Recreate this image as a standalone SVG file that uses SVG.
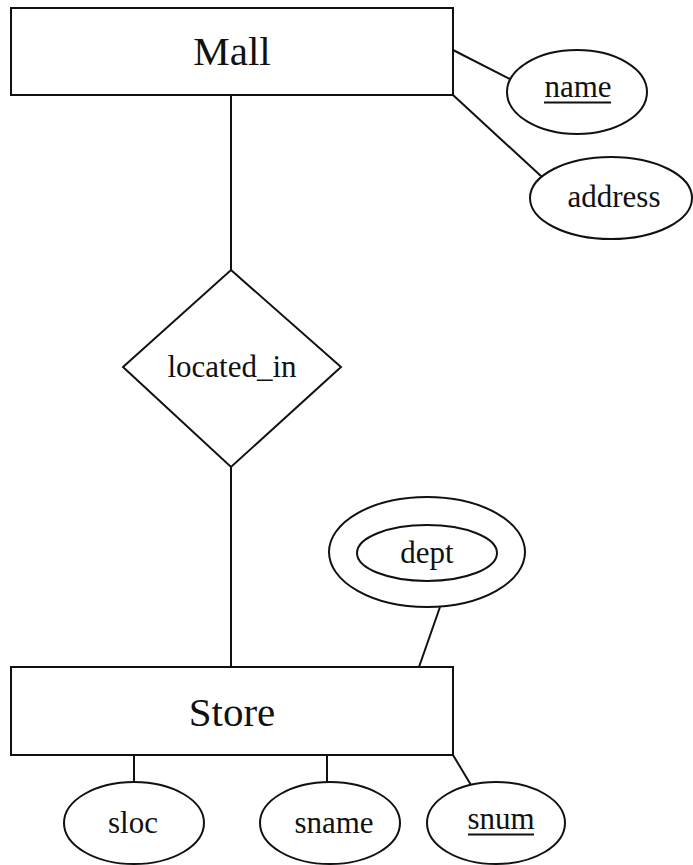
<svg xmlns="http://www.w3.org/2000/svg" width="693" height="865" viewBox="0 0 693 865">
  <style>
    .shape { fill: #ffffff; stroke: #111111; stroke-width: 2; }
    .edge { stroke: #111111; stroke-width: 2; fill: none; }
    text { font-family: 'Liberation Serif', 'DejaVu Serif', serif; fill: #111111; text-anchor: middle; }
    .entity { font-size: 41px; }
    .rel { font-size: 31px; }
    .attr { font-size: 31px; }
  </style>
  <rect width="693" height="865" fill="#ffffff"/>

  <!-- connectors -->
  <g id="connectors">
    <line class="edge" x1="231" y1="95" x2="231" y2="270"/>
    <line class="edge" x1="231" y1="467" x2="231" y2="667"/>
    <line class="edge" x1="453" y1="50" x2="510" y2="79"/>
    <line class="edge" x1="453" y1="95" x2="542" y2="177"/>
    <line class="edge" x1="440" y1="607" x2="419" y2="667"/>
    <line class="edge" x1="134" y1="755" x2="134" y2="782"/>
    <line class="edge" x1="327" y1="755" x2="327" y2="782"/>
    <line class="edge" x1="453" y1="755" x2="471" y2="785"/>
  </g>

  <!-- entity: Mall -->
  <g id="mall">
    <rect class="shape" x="11" y="8" width="442" height="87"/>
    <text class="entity" x="232" y="65" font-family="Liberation Serif, serif">Mall</text>
  </g>

  <!-- attribute: name (key) -->
  <g id="name">
    <ellipse class="shape" cx="577" cy="92" rx="70" ry="42"/>
    <text class="attr" x="578" y="97">name</text>
    <line class="edge" x1="544" y1="102.5" x2="611" y2="102.5"/>
  </g>

  <!-- attribute: address -->
  <g id="address">
    <ellipse class="shape" cx="611" cy="198" rx="81" ry="41"/>
    <text class="attr" x="614" y="207">address</text>
  </g>

  <!-- relationship: located_in -->
  <g id="located_in">
    <polygon class="shape" points="231,270 341,367 231,467 123,367"/>
    <text class="rel" x="232" y="377">located_in</text>
  </g>

  <!-- multivalued attribute: dept -->
  <g id="dept">
    <ellipse class="shape" cx="427" cy="552" rx="98" ry="55"/>
    <ellipse class="shape" cx="427" cy="553" rx="70" ry="28"/>
    <text class="attr" x="427" y="563">dept</text>
  </g>

  <!-- entity: Store -->
  <g id="store">
    <rect class="shape" x="11" y="667" width="442" height="88"/>
    <text class="entity" x="232" y="726">Store</text>
  </g>

  <!-- attributes of Store -->
  <g id="sloc">
    <ellipse class="shape" cx="134" cy="823" rx="70" ry="41"/>
    <text class="attr" x="133" y="833">sloc</text>
  </g>
  <g id="sname">
    <ellipse class="shape" cx="330" cy="823" rx="70" ry="41"/>
    <text class="attr" x="334" y="833">sname</text>
  </g>
  <g id="snum">
    <ellipse class="shape" cx="496" cy="823" rx="69" ry="41"/>
    <text class="attr" x="501" y="829">snum</text>
    <line class="edge" x1="468" y1="834.5" x2="534" y2="834.5"/>
  </g>
</svg>
